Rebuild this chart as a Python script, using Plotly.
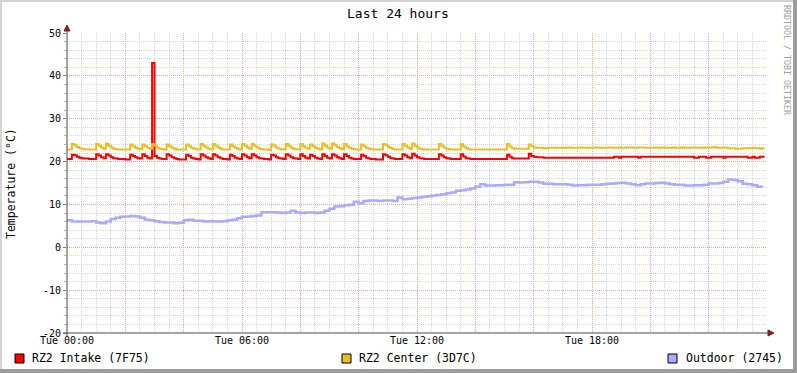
import pandas as pd
import plotly.graph_objects as go

START = "2024-01-02 00:00"  # a Tuesday

# RZ2 Intake, 5-minute samples (one row = one hour)
intake = [
    20.6, 20.6, 21.6, 21.5, 21.1, 20.9, 20.8, 20.7, 20.7, 20.6, 20.6, 20.6,
    21.7, 21.4, 21.0, 20.8, 21.7, 21.4, 21.0, 20.8, 20.7, 20.6, 20.6, 20.6,
    20.5, 20.5, 21.6, 21.3, 21.0, 20.8, 20.7, 21.7, 21.3, 20.9, 20.7, 43.0,
    21.3, 20.9, 20.7, 20.6, 20.6, 21.7, 21.4, 21.0, 20.8, 20.6, 20.5, 20.5,
    20.5, 21.6, 21.3, 20.9, 20.7, 20.6, 20.5, 21.7, 21.4, 21.0, 20.8, 20.6,
    21.7, 21.4, 21.0, 20.8, 20.6, 20.6, 20.5, 21.6, 21.3, 20.9, 20.7, 20.6,
    21.7, 21.4, 21.0, 20.8, 21.7, 21.4, 21.0, 20.8, 20.7, 20.6, 20.6, 20.5,
    21.6, 21.4, 21.0, 20.8, 20.7, 20.6, 21.7, 21.4, 21.0, 20.8, 20.7, 20.6,
    21.7, 21.3, 20.9, 20.7, 21.6, 21.3, 20.9, 20.7, 20.6, 21.7, 21.3, 20.9,
    20.7, 21.7, 21.4, 21.0, 20.8, 20.6, 21.7, 21.3, 20.9, 20.7, 20.6, 20.6,
    20.6, 21.6, 21.3, 20.9, 20.7, 20.6, 20.6, 20.5, 20.5, 20.5, 21.7, 21.5,
    21.1, 20.8, 20.7, 20.6, 20.6, 20.6, 21.7, 21.4, 21.0, 20.8, 21.8, 21.4,
    21.0, 20.8, 20.7, 20.6, 20.6, 20.6, 20.6, 20.6, 20.6, 21.7, 21.4, 21.0,
    20.8, 20.7, 20.6, 20.6, 20.6, 20.6, 21.7, 21.2, 20.8, 20.7, 20.6, 20.6,
    20.6, 20.6, 20.6, 20.6, 20.6, 20.6, 20.6, 20.6, 20.6, 20.6, 20.6, 20.6,
    20.6, 21.6, 21.1, 20.8, 20.7, 20.7, 20.7, 20.7, 20.7, 20.7, 21.8, 21.3,
    21.1, 21.0, 21.0, 21.0, 20.9, 20.9, 20.9, 20.9, 20.9, 20.9, 20.9, 20.9,
    20.9, 20.9, 20.9, 20.9, 20.9, 20.9, 20.9, 20.9, 20.9, 20.9, 20.9, 20.9,
    20.9, 20.9, 20.9, 20.9, 20.9, 20.9, 20.9, 20.9, 20.9, 21.1, 21.1, 20.9,
    21.1, 21.1, 21.1, 21.1, 21.1, 21.1, 21.1, 20.9, 21.1, 21.1, 21.1, 21.1,
    21.1, 21.1, 21.1, 21.1, 21.1, 21.1, 21.1, 21.1, 21.1, 21.1, 21.1, 21.1,
    21.1, 21.1, 21.1, 21.1, 21.1, 21.1, 20.9, 20.9, 21.1, 21.1, 21.1, 20.9,
    20.9, 21.1, 21.1, 21.1, 21.1, 21.1, 20.9, 21.1, 21.1, 21.1, 21.1, 21.1,
    21.1, 21.1, 21.1, 21.1, 20.9, 20.9, 21.1, 20.9, 20.9, 21.1, 21.1, 21.1,
]

# RZ2 Center, 5-minute samples
center = [
    22.8, 22.8, 24.1, 23.8, 23.4, 23.1, 23.0, 22.9, 22.9, 22.8, 22.8, 22.8,
    24.1, 23.7, 23.3, 23.0, 24.2, 23.7, 23.3, 23.0, 22.9, 22.8, 22.8, 22.8,
    22.8, 22.8, 24.0, 23.6, 23.2, 23.0, 22.9, 24.0, 23.6, 23.2, 23.0, 24.1,
    23.7, 23.3, 23.0, 22.9, 22.8, 24.0, 23.6, 23.2, 23.0, 22.8, 22.8, 22.8,
    22.8, 24.0, 23.6, 23.2, 23.0, 22.9, 22.8, 24.1, 23.7, 23.3, 23.0, 22.8,
    24.1, 23.7, 23.3, 23.0, 22.8, 22.8, 22.8, 24.0, 23.6, 23.2, 23.0, 22.8,
    24.1, 23.7, 23.3, 23.0, 24.1, 23.7, 23.3, 23.0, 22.9, 22.8, 22.8, 22.7,
    24.0, 23.7, 23.3, 23.0, 22.9, 22.8, 24.1, 23.7, 23.3, 23.0, 22.9, 22.8,
    24.1, 23.6, 23.2, 23.0, 24.0, 23.6, 23.2, 23.0, 22.8, 24.2, 23.7, 23.3,
    23.0, 24.2, 23.8, 23.4, 23.1, 22.9, 24.1, 23.6, 23.2, 23.0, 22.9, 22.8,
    22.8, 24.0, 23.6, 23.2, 23.0, 22.9, 22.8, 22.8, 22.8, 22.8, 24.1, 23.8,
    23.4, 23.1, 22.9, 22.8, 22.8, 22.8, 24.1, 23.7, 23.3, 23.0, 24.2, 23.7,
    23.3, 23.0, 22.9, 22.8, 22.8, 22.8, 22.8, 22.8, 22.8, 24.1, 23.7, 23.3,
    23.0, 22.9, 22.8, 22.8, 22.8, 22.8, 24.1, 23.5, 23.1, 22.9, 22.8, 22.8,
    22.8, 22.8, 22.8, 22.8, 22.8, 22.8, 22.8, 22.8, 22.8, 22.8, 22.8, 22.8,
    22.8, 24.1, 23.5, 23.1, 23.0, 23.0, 23.0, 23.0, 23.0, 23.0, 24.0, 23.6,
    23.3, 23.2, 23.2, 23.2, 23.1, 23.1, 23.2, 23.2, 23.2, 23.2, 23.2, 23.2,
    23.2, 23.2, 23.3, 23.2, 23.2, 23.2, 23.2, 23.3, 23.2, 23.2, 23.2, 23.2,
    23.2, 23.3, 23.3, 23.2, 23.2, 23.2, 23.2, 23.3, 23.3, 23.2, 23.2, 23.3,
    23.2, 23.2, 23.3, 23.3, 23.3, 23.2, 23.2, 23.3, 23.3, 23.3, 23.2, 23.2,
    23.2, 23.2, 23.3, 23.2, 23.2, 23.3, 23.2, 23.2, 23.2, 23.3, 23.2, 23.2,
    23.2, 23.3, 23.2, 23.2, 23.2, 23.3, 23.3, 23.2, 23.2, 23.3, 23.2, 23.3,
    23.3, 23.3, 23.4, 23.3, 23.2, 23.2, 23.3, 23.2, 23.1, 23.1, 23.1, 23.0,
    23.0, 23.0, 23.1, 23.1, 23.1, 23.1, 23.2, 23.1, 23.1, 23.0, 23.1, 23.1,
]

# Outdoor, 10-minute samples (one row = one hour)
outdoor = [
    6.3, 6.0, 6.0, 6.0, 6.0, 6.1,
    5.8, 5.6, 6.0, 6.6, 6.9, 7.1,
    7.2, 7.3, 7.2, 6.9, 6.4, 6.3,
    6.1, 5.9, 5.8, 5.8, 5.6, 5.7,
    6.3, 6.4, 6.2, 6.2, 6.0, 6.1,
    6.0, 6.0, 6.1, 6.3, 6.4, 6.8,
    7.1, 7.2, 7.3, 7.4, 8.2, 8.2,
    8.2, 8.1, 8.0, 8.1, 8.5, 8.1,
    8.0, 8.1, 8.1, 8.0, 8.1, 8.5,
    9.0, 9.5, 9.6, 9.8, 9.9, 10.6,
    10.3, 10.8, 10.9, 10.9, 10.8, 10.9,
    10.9, 10.8, 11.6, 11.2, 11.3, 11.5,
    11.6, 11.8, 11.9, 12.1, 12.2, 12.4,
    12.6, 12.8, 13.2, 13.3, 13.5, 13.7,
    14.1, 14.7, 14.4, 14.4, 14.5, 14.5,
    14.6, 14.6, 15.2, 15.1, 15.2, 15.3,
    15.3, 15.1, 14.8, 14.8, 14.7, 14.7,
    14.7, 14.6, 14.4, 14.5, 14.5, 14.6,
    14.6, 14.6, 14.7, 14.8, 14.9, 15.0,
    15.05, 14.9, 14.7, 14.5, 14.7, 14.9,
    14.9, 15.0, 15.05, 14.9, 14.7, 14.6,
    14.6, 14.4, 14.4, 14.5, 14.5, 14.6,
    14.9, 14.9, 15.0, 15.3, 15.8, 15.7,
    15.4, 14.8, 14.7, 14.5, 14.1, 14.0,
]

series_names = ["RZ2 Intake (7F75)", "RZ2 Center (3D7C)", "Outdoor (2745)"]
series_colors = ["#FF0000", "#E8C020", "#AAAAFF"]
x_tick_hours = [0, 2, 4, 6, 8, 10, 12, 14, 16, 18, 20, 22]
x_tick_labels = ["Tue 00:00", "", "", "Tue 06:00", "", "", "Tue 12:00", "", "", "Tue 18:00", "", ""]
y_tick_values = [-20, -10, 0, 10, 20, 30, 40, 50]
y_tick_labels = ["-20", "-10", "0", "10", "20", "30", "40", "50"]

FONT = "DejaVu Sans Mono"
t0 = pd.Timestamp(START)
t5 = pd.date_range(t0, periods=len(intake), freq="5min")
t10 = pd.date_range(t0, periods=len(outdoor), freq="10min")

fig = go.Figure()
for name, ys, xs, col, w in [
    (series_names[0], intake, t5, series_colors[0], 2),
    (series_names[1], center, t5, series_colors[1], 2),
    (series_names[2], outdoor, t10, series_colors[2], 2.5),
]:
    fig.add_trace(go.Scatter(x=xs, y=ys, mode="lines", name=name,
                             line=dict(color=col, width=w, shape="hv"),
                             showlegend=False, hoverinfo="skip"))

# geometry helpers (pixel -> paper)
L, T, W, H = 67, 33, 700, 300
def px(x):
    return (x - L) / W
def py(y):
    return (T + H - y) / H

shapes = []
# frame
shapes.append(dict(type="rect", xref="paper", yref="paper", x0=px(0), x1=px(2), y0=py(373), y1=py(0),
                   fillcolor="#D4D4D4", line=dict(width=0)))
shapes.append(dict(type="rect", xref="paper", yref="paper", x0=px(0), x1=px(797), y0=py(2), y1=py(0),
                   fillcolor="#D4D4D4", line=dict(width=0)))
shapes.append(dict(type="rect", xref="paper", yref="paper", x0=px(793), x1=px(797), y0=py(373), y1=py(0),
                   fillcolor="#9C9C9C", line=dict(width=0)))
shapes.append(dict(type="rect", xref="paper", yref="paper", x0=px(0), x1=px(797), y0=py(373), y1=py(369),
                   fillcolor="#9C9C9C", line=dict(width=0)))
# axes lines
shapes.append(dict(type="line", xref="paper", yref="paper", x0=px(67), x1=px(67), y0=py(336), y1=py(30),
                   line=dict(color="#4A4A4A", width=1)))
shapes.append(dict(type="line", xref="paper", yref="paper", x0=px(63), x1=px(770), y0=py(333), y1=py(333),
                   line=dict(color="#4A4A4A", width=1)))
# arrows
shapes.append(dict(type="path", xref="paper", yref="paper",
                   path=f"M {px(67)},{py(25)} L {px(64)},{py(31)} L {px(70)},{py(31)} Z",
                   fillcolor="#802020", line=dict(color="#802020", width=1)))
shapes.append(dict(type="path", xref="paper", yref="paper",
                   path=f"M {px(774)},{py(333)} L {px(768)},{py(330)} L {px(768)},{py(336)} Z",
                   fillcolor="#802020", line=dict(color="#802020", width=1)))
# legend boxes
for bx, col in zip([15, 342, 668], series_colors):
    shapes.append(dict(type="rect", xref="paper", yref="paper", x0=px(bx), x1=px(bx + 9),
                       y0=py(363), y1=py(354), fillcolor=col, line=dict(color="#000000", width=1)))

annotations = [
    dict(text="Last 24 hours", xref="paper", yref="paper", x=px(398), y=py(13),
         xanchor="center", yanchor="middle", showarrow=False, font=dict(family=FONT, size=13, color="#000")),
    dict(text="Temperature (°C)", xref="paper", yref="paper", x=px(11), y=py(184), textangle=-90,
         xanchor="center", yanchor="middle", showarrow=False, font=dict(family=FONT, size=11.5, color="#000")),
    dict(text="RRDTOOL / TOBI OETIKER", xref="paper", yref="paper", x=px(787), y=py(60), textangle=90,
         xanchor="center", yanchor="middle", showarrow=False, font=dict(family=FONT, size=8.3, color="#A0A0A0")),
]
for lx, name in zip([30, 357, 684], series_names):
    annotations.append(dict(text=name, xref="paper", yref="paper", x=px(lx), y=py(358),
                            xanchor="left", yanchor="middle", showarrow=False,
                            font=dict(family=FONT, size=11.5, color="#000")))

fig.update_layout(
    width=797, height=373,
    margin=dict(l=L, r=797 - L - W, t=T, b=373 - T - H),
    paper_bgcolor="#FFFFFF", plot_bgcolor="#FFFFFF",
    font=dict(family=FONT, size=10, color="#000"),
    shapes=shapes, annotations=annotations,
    xaxis=dict(
        type="date",
        range=[t0, t0 + pd.Timedelta(hours=24)],
        tickmode="array",
        tickvals=[t0 + pd.Timedelta(hours=h) for h in x_tick_hours],
        ticktext=x_tick_labels,
        showgrid=True, gridcolor="#EAA4A4", griddash="1px,1px", gridwidth=1,
        ticks="",
        showline=False, zeroline=False,
        tickfont=dict(family=FONT, size=10),
        minor=dict(dtick=1800000, showgrid=True, gridcolor="#D6D6D6", griddash="1px,1px", gridwidth=1),
        fixedrange=True,
    ),
    yaxis=dict(
        range=[-20, 50],
        tickmode="array", tickvals=y_tick_values, ticktext=y_tick_labels,
        showgrid=True, gridcolor="#EAA4A4", griddash="1px,1px", gridwidth=1,
        ticks="outside", ticklen=3, tickcolor="#C06060",
        showline=False, zeroline=False,
        tickfont=dict(family=FONT, size=10),
        minor=dict(dtick=2, showgrid=True, gridcolor="#D6D6D6", griddash="1px,1px", gridwidth=1,
                   ticks="outside", ticklen=2, tickcolor="#E0A0A0"),
        fixedrange=True,
    ),
)

fig.write_html("out.html", config={"displayModeBar": False},
               post_script="document.body.style.margin='0';document.body.style.padding='0';")
